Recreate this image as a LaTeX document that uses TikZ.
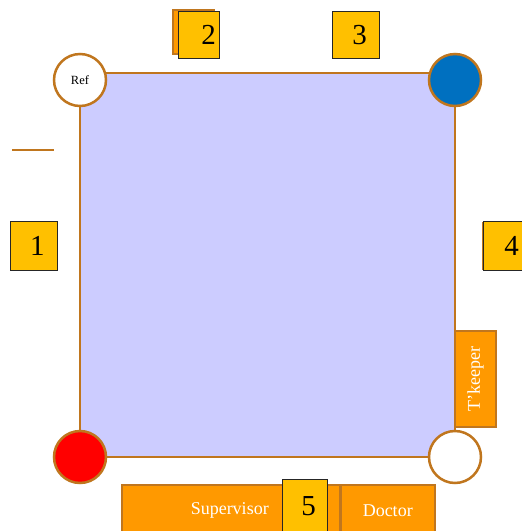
\documentclass[tikz,border=0pt]{standalone}
\usepackage{fontspec}
\setmainfont{Liberation Serif}
\usetikzlibrary{positioning}
\definecolor{pitch}{HTML}{CCCCFF}
\definecolor{rim}{HTML}{C0761E}
\definecolor{amber}{HTML}{FFC000}
\definecolor{tangerine}{HTML}{FF9900}
\definecolor{cornerblue}{HTML}{0070C0}

\begin{document}
\begin{tikzpicture}[x=1pt,y=1pt,
      corner node/.style={circle,draw=rim,line width=2.5pt,minimum size=52pt,inner sep=0pt,font=\fontsize{12.5}{13}\selectfont},
      number node/.style={rectangle,draw=black!85,fill=amber,line width=1pt,minimum width=47pt,minimum height=47pt,inner sep=0pt,
        font=\fontsize{29}{29}\selectfont,execute at begin node={\hspace*{7pt}}},
      shadow node/.style={rectangle,draw=rim,fill=tangerine,line width=1.5pt,inner sep=0pt},
      role node/.style={rectangle,draw=rim,fill=tangerine,line width=1.5pt,inner sep=0pt,text=white,font=\fontsize{18}{18}\selectfont}]
      \useasboundingbox (0,0) rectangle (522,-531);

      % the pitch
      \node[rectangle,draw=rim,fill=pitch,line width=2.5pt,minimum width=375pt,minimum height=384pt,inner sep=0pt] (field) at (267.5,-265) {};
      \draw[draw=rim,line width=2.5pt] (12,-150) -- (54,-150);

      % corners
      \node[corner node,fill=white] (ref) at (80,-80) {Ref};
      \node[corner node,fill=cornerblue] (blue) at (455,-80) {};
      \node[corner node,fill=red] (red) at (80,-457) {};
      \node[corner node,fill=white] (white) at (455,-457) {};

      % officials
      \node[role node,minimum width=41pt,minimum height=96pt] (keeper) at (475.5,-379) {\rotatebox{90}{T'keeper}};
      \node[role node,minimum width=218pt,minimum height=60pt,anchor=north west,
            label={[text=white,font=\fontsize{18}{18}\selectfont,xshift=-1pt,yshift=4pt]center:Supervisor}] (super) at (121,-484) {};
      \node[role node,minimum width=94pt,minimum height=60pt,anchor=north west] (doctor) at (340,-484) {\raisebox{8pt}{Doctor}};

      % numbered positions
      \node[shadow node,minimum width=41pt,minimum height=44pt,anchor=north west] (two back) at (172,-9) {};
      \node[shadow node,minimum width=40pt,minimum height=46pt,anchor=north west] (four back) at (482,-222) {};
      \node[number node,anchor=north west,minimum height=49pt] (one) at (10,-221) {\raisebox{-3pt}{1}};
      \node[number node,anchor=north west,minimum width=41pt,execute at begin node={\hspace*{12pt}}] (two) at (178,-11) {\raisebox{-3pt}{2}};
      \node[number node,anchor=north west] (three) at (332,-11) {\raisebox{-3pt}{3}};
      \node[number node,anchor=north west,minimum height=49pt,execute at begin node={\hspace*{2pt}}] (four) at (483,-221) {\raisebox{-3pt}{4}};
      \node[number node,anchor=north west,minimum width=45pt,minimum height=60pt] (five) at (282,-479) {\raisebox{8pt}{5}};
    \end{tikzpicture}
\end{document}
